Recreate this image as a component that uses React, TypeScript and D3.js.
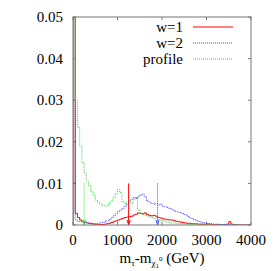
import React from "react";
import * as d3 from "d3";

// histogram bins, 50 GeV wide, starting at 0
const binWidth = 50;

const w1 = [
  0.06, 0.0028, 0.0018, 0.0012, 0.0009, 0.0007, 0.0005, 0.0004, 0.0003, 0.0002,
  0.0002, 0.0001, 0.0001, 0.0001, 0.0002, 0.0003, 0.0004, 0.0006, 0.0008, 0.001,
  0.0012, 0.0014, 0.0016, 0.0018, 0.0019, 0.002, 0.0021, 0.0024, 0.0026, 0.0029,
  0.0028, 0.0027, 0.0029, 0.0025, 0.0023, 0.0022, 0.0023, 0.0021, 0.0018, 0.0017,
  0.0015, 0.0014, 0.0013, 0.0012, 0.0012, 0.0011, 0.0009, 0.0008, 0.0007, 0.0006,
  0.0005, 0.0004, 0.0004, 0.0003, 0.0003, 0.0003, 0.0002, 0.0002, 0.0002, 0.0002,
  0.0002, 0.0002, 0.0001, 0.0001, 0.0001, 0.0001, 0.0001, 0.0001, 0.0001, 0.0002,
  0.0008, 0.0002, 0.0001, 0.0001, 0.0, 0.0, 0.0, 0.0, 0.0, 0.0,
];

const w2 = [
  0.06, 0.0012, 0.0009, 0.0008, 0.0007, 0.0006, 0.0005, 0.0004, 0.0004, 0.0003,
  0.0003, 0.0004, 0.0005, 0.0006, 0.0008, 0.001, 0.0013, 0.0017, 0.0022, 0.0027,
  0.0032, 0.0036, 0.004, 0.0045, 0.005, 0.0058, 0.0062, 0.0066, 0.0064, 0.0068,
  0.0072, 0.0074, 0.0068, 0.0058, 0.0055, 0.0052, 0.005, 0.0052, 0.0048, 0.005,
  0.0045, 0.0044, 0.0042, 0.004, 0.0038, 0.0035, 0.0032, 0.0031, 0.003, 0.0027,
  0.0025, 0.0022, 0.0018, 0.0016, 0.0013, 0.0011, 0.0009, 0.0007, 0.0006, 0.0005,
  0.0004, 0.0003, 0.0003, 0.0002, 0.0002, 0.0002, 0.0001, 0.0001, 0.0001, 0.0001,
  0.0001, 0.0001, 0.0, 0.0, 0.0, 0.0, 0.0, 0.0, 0.0, 0.0,
];

const profile = [
  0.065, 0.03, 0.0235, 0.019, 0.015, 0.0125, 0.0105, 0.0095, 0.008, 0.0072,
  0.006, 0.0055, 0.005, 0.0048, 0.0046, 0.0046, 0.0052, 0.0058, 0.0066, 0.0075,
  0.0085, 0.0078, 0.0056, 0.0052, 0.0055, 0.0056, 0.0052, 0.0062, 0.0066, 0.0036,
  0.0028, 0.0025, 0.0024, 0.0022, 0.002, 0.0018, 0.0016, 0.0015, 0.0013, 0.0012,
  0.001, 0.0009, 0.0007, 0.0006, 0.0005, 0.0005, 0.0004, 0.0004, 0.0003, 0.0003,
  0.0003, 0.0002, 0.0002, 0.0002, 0.0002, 0.0002, 0.0001, 0.0001, 0.0001, 0.0001,
  0.0001, 0.0001, 0.0001, 0.0001, 0.0001, 0.0001, 0.0001, 0.0001, 0.0001, 0.0001,
  0.0001, 0.0001, 0.0001, 0.0001, 0.0, 0.0, 0.0, 0.0, 0.0, 0.0,
];

// vertical arrows (x position, top value)
const arrows = [
  { x: 1250, top: 0.01, key: "w1" },
  { x: 1900, top: 0.01, key: "w2" },
  { x: 250, top: 0.01, key: "profile" },
];

const xTicks = [0, 1000, 2000, 3000, 4000];
const yTicks = [0, 0.01, 0.02, 0.03, 0.04, 0.05];

const series = [
  { key: "w1", label: "w=1", values: w1, color: "#ff0000", dash: "none" },
  { key: "w2", label: "w=2", values: w2, color: "#4848ff", dash: "1,1" },
  { key: "profile", label: "profile", values: profile, color: "#22f022", dash: "1,1" },
];

export default function App() {
  const width = 277;
  const height = 271;
  const margin = { top: 17, right: 26, bottom: 46, left: 73 };
  const iw = width - margin.left - margin.right;
  const ih = height - margin.top - margin.bottom;

  const x = d3.scaleLinear().domain([0, 4000]).range([0, iw]);
  const y = d3.scaleLinear().domain([0, 0.05]).range([ih, 0]);

  const line = d3
    .line<[number, number]>()
    .x((d) => x(d[0]))
    .y((d) => y(d[1]))
    .curve(d3.curveStepAfter);

  const pathFor = (vals: number[]) => {
    const pts: [number, number][] = [[0, 0]];
    vals.forEach((v, i) => pts.push([i * binWidth, v]));
    pts.push([vals.length * binWidth, vals[vals.length - 1]]);
    return line(pts) || "";
  };

  const frame = "#777";
  const font = "'Liberation Serif', 'DejaVu Serif', serif";

  return (
    <svg
      width={width}
      height={height}
      style={{ position: "absolute", left: 0, top: 0, background: "#fff" }}
    >
      <defs>
        <clipPath id="plotclip">
          <rect x={0} y={0} width={iw} height={ih} />
        </clipPath>
      </defs>
      <g transform={`translate(${margin.left},${margin.top})`}>
        {/* ticks, mirrored on all sides */}
        {yTicks.map((t) => (
          <g key={`y${t}`}>
            <line x1={0} x2={3} y1={y(t)} y2={y(t)} stroke={frame} />
            <line x1={iw} x2={iw - 3} y1={y(t)} y2={y(t)} stroke={frame} />
            <text
              x={-10}
              y={y(t)}
              dy="0.35em"
              textAnchor="end"
              fontFamily={font}
              fontSize={15}
            >
              {t === 0 ? "0" : t.toFixed(2)}
            </text>
          </g>
        ))}
        {xTicks.map((t) => (
          <g key={`x${t}`}>
            <line x1={x(t)} x2={x(t)} y1={ih} y2={ih - 3} stroke={frame} />
            <line x1={x(t)} x2={x(t)} y1={0} y2={3} stroke={frame} />
            <text
              x={x(t)}
              y={ih + 20}
              textAnchor="middle"
              fontFamily={font}
              fontSize={15}
            >
              {t}
            </text>
          </g>
        ))}

        <g clipPath="url(#plotclip)">
          {series.map((s) => (
            <path
              key={s.key}
              d={pathFor(s.values)}
              fill="none"
              stroke={s.color}
              strokeWidth={1}
              strokeDasharray={s.dash}
            />
          ))}
          {arrows.map((a) => {
            const s = series.find((q) => q.key === a.key)!;
            const ax = x(a.x);
            const yb = y(0);
            return (
              <g key={a.key}>
                <line
                  x1={ax}
                  x2={ax}
                  y1={y(a.top)}
                  y2={yb}
                  stroke={s.color}
                  strokeDasharray={s.dash}
                />
                <path
                  d={`M${ax - 1.5},${yb - 5}L${ax},${yb}L${ax + 1.5},${yb - 5}`}
                  fill="none"
                  stroke={s.color}
                />
              </g>
            );
          })}
        </g>

        <rect x={0} y={0} width={iw} height={ih} fill="none" stroke={frame} />

        {/* legend */}
        {series.map((s, i) => (
          <g key={`lg${s.key}`} transform={`translate(0,${10 + i * 16})`}>
            <text
              x={110}
              y={0}
              dy="0.35em"
              textAnchor="end"
              fontFamily={font}
              fontSize={15}
            >
              {s.label}
            </text>
            <line
              x1={120}
              x2={160}
              y1={0}
              y2={0}
              stroke={s.color}
              strokeWidth={1.2}
              strokeDasharray={s.dash}
            />
          </g>
        ))}

        <text
          x={iw / 2}
          y={ih + 38}
          textAnchor="middle"
          fontFamily={font}
          fontSize={15}
        >
          m
          <tspan dy={3} fontSize={9}>τ</tspan>
          <tspan dy={-3}>-m</tspan>
          <tspan dy={3} fontSize={9}>χ</tspan>
          <tspan dy={2} fontSize={7}>1</tspan>
          <tspan dy={-7} fontSize={7}>0</tspan>
          <tspan dy={2}> (GeV)</tspan>
        </text>
      </g>
    </svg>
  );
}
